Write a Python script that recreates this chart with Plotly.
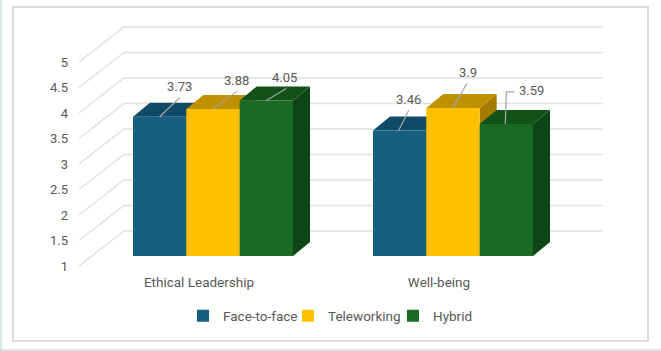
import plotly.graph_objects as go

categories = ["Ethical Leadership", "Well-being"]
series_names = ["Face-to-face", "Teleworking", "Hybrid"]
face_to_face = [3.73, 3.46]
teleworking = [3.88, 3.9]
hybrid = [4.05, 3.59]
y_ticks = [1, 1.5, 2, 2.5, 3, 3.5, 4, 4.5, 5]
y_tick_labels = ["1", "1.5", "2", "2.5", "3", "3.5", "4", "4.5", "5"]

W, H = 661, 351
PX_X = 240.0      # px per category step
PX_Y = 51.0       # px per value unit
X0_PX = 213.0     # px of first category centre
Y1_PX = 256.0     # px of value 1 on the bar front plane
X_RANGE = [-X0_PX / PX_X, (W - X0_PX) / PX_X]
BAR_Y_RANGE = [1 - (H - Y1_PX) / PX_Y, 1 + Y1_PX / PX_Y]
WALL_Y1 = 266.0
WALL_Y_RANGE = [1 - (H - WALL_Y1) / PX_Y, 1 + WALL_Y1 / PX_Y]

BAR_W = 160 / 240 / 3
DX, DY = 17 / PX_X, 14 / PX_Y
FONT = "Roboto"
TEXT = "#595959"
front = ["#156082", "#FFC000", "#196B24"]
top = ["#104A66", "#BF9000", "#125219"]
side = ["#0C3A4F", "#A67C00", "#0F4516"]
series = [face_to_face, teleworking, hybrid]
x_pos = list(range(len(categories)))

fig = go.Figure()

# wall grid lines: front-left edge -> back wall -> right end
gx, gy = [], []
wall_dy = 35 / PX_Y
for v in y_ticks:
    gx += [(79 - X0_PX) / PX_X, (124 - X0_PX) / PX_X, (603 - X0_PX) / PX_X, None]
    gy += [v, v + wall_dy, v + wall_dy, None]
fig.add_trace(go.Scatter(x=gx, y=gy, mode="lines", line=dict(color="#E1E1E1", width=1.5),
                         showlegend=False, hoverinfo="skip", xaxis="x", yaxis="y"))

# side and top faces, back layer
for s, vals in enumerate(series):
    for i, v in enumerate(vals):
        left = x_pos[i] + (s - 1.5) * BAR_W
        right = left + BAR_W
        fig.add_trace(go.Scatter(
            x=[right, right + DX, right + DX, right, right],
            y=[1, 1 + DY, v + DY, v, 1], fill="toself", fillcolor=side[s], mode="none",
            showlegend=False, hoverinfo="skip", xaxis="x", yaxis="y2"))
        fig.add_trace(go.Scatter(
            x=[left, left + DX, right + DX, right, left],
            y=[v, v + DY, v + DY, v, v], fill="toself", fillcolor=top[s], mode="none",
            showlegend=False, hoverinfo="skip", xaxis="x", yaxis="y2"))

# front faces
for s, vals in enumerate(series):
    fig.add_trace(go.Bar(x=x_pos, y=[v - 1 for v in vals], base=1, name=series_names[s],
                         marker=dict(color=front[s], line=dict(width=0)),
                         xaxis="x", yaxis="y3"))

# leader lines (offsets in px from the bar's top centre) and value labels
leaders = {
    (0, 0): [(0, 0), (20, -19)], (1, 0): [(0, 0), (24, -18)], (2, 0): [(0, 0), (20, -12)],
    (0, 1): [(-1, 0), (9, -20)], (1, 1): [(0, 0), (14, -25)], (2, 1): [(-1, 0), (0, -32), (8, -32)],
}
label_off = {
    (0, 0): (20, -30), (1, 0): (23, -29), (2, 0): (18, -23),
    (0, 1): (9, -31), (1, 1): (15, -36), (2, 1): (25, -33),
}
annotations = []
for s, vals in enumerate(series):
    for i, v in enumerate(vals):
        cx = x_pos[i] + (s - 1) * BAR_W
        pts = leaders[(s, i)]
        fig.add_trace(go.Scatter(
            x=[cx + p[0] / PX_X for p in pts], y=[v - p[1] / PX_Y for p in pts],
            mode="lines", line=dict(color="#A6A6A6", width=1.2),
            showlegend=False, hoverinfo="skip", xaxis="x", yaxis="y3"))
        ox, oy = label_off[(s, i)]
        annotations.append(dict(x=cx + ox / PX_X, y=v - oy / PX_Y, xref="x", yref="y3",
                                text=str(v), showarrow=False,
                                font=dict(family=FONT, size=13, color=TEXT)))

# frame: teal strips on the left and bottom edges, grey-outlined panel
TEAL = "#D5E8E6"
shapes = [
    dict(type="rect", xref="paper", yref="paper", x0=0, x1=2 / W, y0=0, y1=1,
         fillcolor=TEAL, line=dict(width=0), layer="below"),
    dict(type="rect", xref="paper", yref="paper", x0=0, x1=1, y0=0, y1=2 / H,
         fillcolor=TEAL, line=dict(width=0), layer="below"),
    dict(type="rect", xref="paper", yref="paper", x0=13 / W, x1=648 / W, y0=1 - 341 / H, y1=1 - 7 / H,
         fillcolor="white", line=dict(color="#DCDCDC", width=2), layer="below"),
]

fig.update_layout(
    width=W, height=H, margin=dict(l=0, r=0, t=0, b=0),
    paper_bgcolor="white", plot_bgcolor="rgba(0,0,0,0)",
    barmode="group", bargap=1 / 3, bargroupgap=0,
    font=dict(family=FONT, size=12, color=TEXT),
    shapes=shapes, annotations=annotations,
    xaxis=dict(domain=[0, 1], range=X_RANGE, tickmode="array",
               tickvals=[p - 14 / PX_X for p in x_pos], ticktext=categories,
               showgrid=False, zeroline=False, showline=False, ticks="",
               anchor="free", position=1 - 272 / H, tickfont=dict(family=FONT, size=13.5, color=TEXT)),
    yaxis=dict(domain=[0, 1], range=WALL_Y_RANGE, tickmode="array", tickvals=y_ticks,
               ticktext=y_tick_labels, showgrid=False, zeroline=False, showline=False, ticks="",
               anchor="free", position=68 / W, tickfont=dict(family=FONT, size=13, color=TEXT)),
    yaxis2=dict(domain=[0, 1], range=BAR_Y_RANGE, overlaying="y", visible=False),
    yaxis3=dict(domain=[0, 1], range=BAR_Y_RANGE, overlaying="y", visible=False),
    legend=dict(orientation="h", x=183 / W, xanchor="left", y=1 - 316 / H, yanchor="middle",
                bgcolor="rgba(0,0,0,0)", font=dict(family=FONT, size=13.5, color=TEXT),
                traceorder="normal", entrywidth=60, entrywidthmode="pixels"),
)

fig.write_html("out.html", config=dict(displayModeBar=False),
               post_script="document.body.style.margin='0';document.documentElement.style.overflow='hidden';")
